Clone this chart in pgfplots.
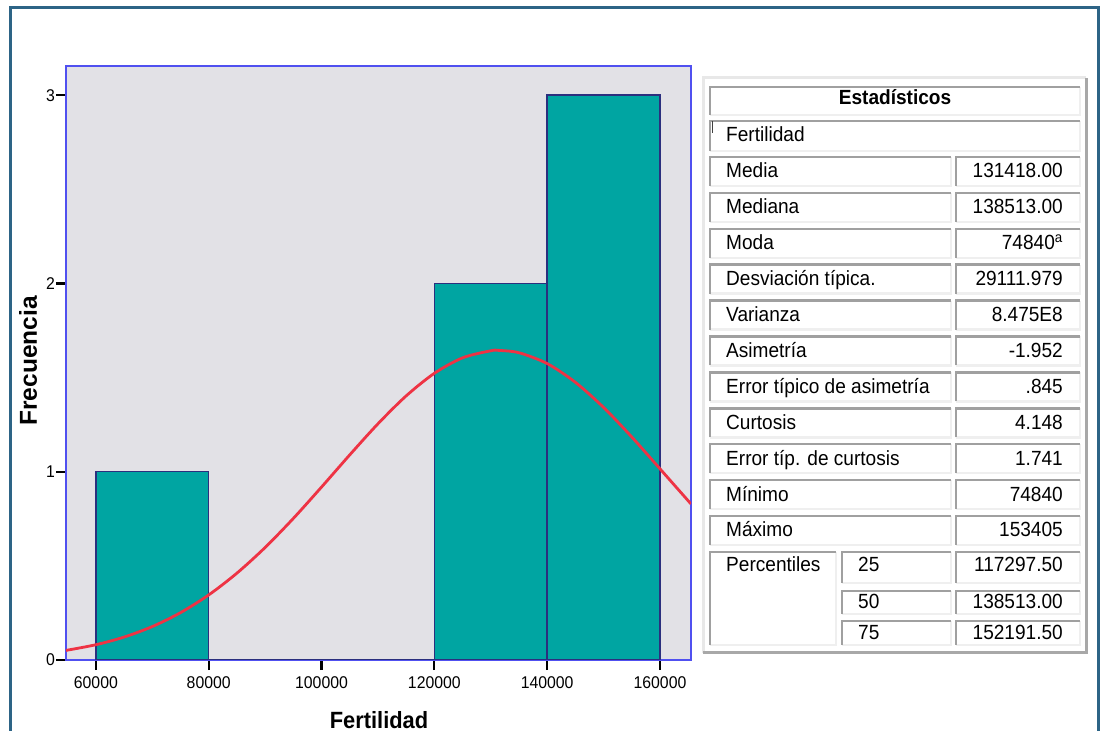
\documentclass[border=0pt]{standalone}
\usepackage{pgfplots}
\pgfplotsset{compat=1.18}
\usepackage{fontspec}
\setmainfont{Liberation Sans}[FakeStretch=0.93]
\newfontfamily\plainbold{Liberation Sans}[FakeStretch=1.0]
\definecolor{framecol}{HTML}{2D6486}
\definecolor{axblue}{HTML}{5050F0}
\definecolor{plotbg}{HTML}{E2E1E6}
\definecolor{barfill}{HTML}{00A5A2}
\definecolor{baredge}{HTML}{2B2F7E}
\definecolor{curvecol}{HTML}{EE3344}
\definecolor{celldark}{HTML}{A0A0A0}
\definecolor{celllight}{HTML}{EFEFEF}
\definecolor{outerdark}{HTML}{A8A8A8}
\definecolor{outerlight}{HTML}{E8E8E8}
\newcommand{\cell}[4]{%
  \draw[celllight, line width=2.5pt] (#1,#4) -- (#3,#4) -- (#3,#2);
  \draw[celldark, line width=2.5pt] (#1,#4) -- (#1,#2) -- (#3,#2);
}
\newcommand{\tf}{\fontsize{20.5}{24}\selectfont}
\begin{document}
\begin{tikzpicture}
\useasboundingbox (0pt,0pt) rectangle (1104pt,731pt);
\fill[white] (0pt,0pt) rectangle (1104pt,731pt);
\begin{axis}[
  at={(66pt,71pt)}, anchor=south west,
  width=625pt, height=594pt, scale only axis,
  xmin=54700, xmax=165500, ymin=0, ymax=3.155,
  axis background/.style={fill=plotbg},
  axis line style={axblue, line width=1.5pt},
  xtick={60000,80000,100000,120000,140000,160000},
  xticklabels={60000,80000,100000,120000,140000,160000},
  ytick={0,1,2,3},
  yticklabels={0,1,2,3},
  tick pos=left,
  tick align=outside,
  major tick length=10pt,
  xtick style={draw=black, line width=2.2pt},
  ytick style={draw=black, line width=2.2pt},
  every major tick/.append style={draw=black, line width=2.2pt},
  scaled x ticks=false,
  tick label style={font=\fontsize{17}{17}\selectfont},
  xticklabel style={inner sep=0pt, anchor=north, yshift=-6pt},
  yticklabel style={inner sep=0pt, anchor=east, xshift=-1pt},
  xlabel={\textbf{Fertilidad}},
  xlabel style={at={(axis description cs:0.5008,-0.1145)}, anchor=base, font=\fontsize{23.5}{24}\selectfont, inner sep=0pt},
  ylabel={\plainbold\bfseries Frecuencia},
  ylabel style={at={(axis description cs:-0.0608,0.5034)}, anchor=center, font=\fontsize{24.5}{25}\selectfont, inner sep=0pt},
]
\addplot[ybar interval, fill=barfill, draw=baredge, line width=1.5pt]
  coordinates {(60000,1) (80000,0) (120000,2) (140000,3) (160000,3)};
\addplot[smooth, curvecol, line width=2.8pt] coordinates {
(54700,0.0510) (60000,0.0811) (65000,0.1218) (70000,0.1776) (75000,0.2514)
(80000,0.3456) (85000,0.4613) (90000,0.5976) (95000,0.7519) (100000,0.9186)
(105000,1.0894) (110000,1.2545) (115000,1.4027) (120000,1.5227) (125000,1.6049)
(130000,1.6424) (131418,1.6444) (135000,1.6320) (140000,1.5745) (145000,1.4749)
(150000,1.3414) (155000,1.1844) (160000,1.0155) (165500,0.8287)};
\end{axis}
\draw[framecol, line width=3pt] (10pt,-10pt) -- (10pt,723pt) -- (1098pt,723pt) -- (1098pt,-10pt);
\begin{scope}[yshift=731pt, x=1pt, y=-1pt]
  % outer table box
  \draw[outerlight, line width=3pt] (703,653) -- (703,78) -- (1086,78);
  \draw[outerdark, line width=3pt] (703,653) -- (1086,653) -- (1086,78);
  % header
  \cell{710}{87}{1080}{115}
  \node[anchor=base, inner sep=0pt, font=\tf\bfseries] at (895,105) {Estadísticos};
  \cell{710}{121}{1080}{151}
  \node[anchor=base west, inner sep=0pt, font=\tf] at (726,142) {Fertilidad};
  \draw[black!75, line width=0.8pt] (712,121) -- (712,133);
  \foreach \i/\lab/\val in {0/Media/131418.00, 1/Mediana/138513.00, 2/Moda/74840\textsuperscript{a},
     3/Desviación típica./29111.979, 4/Varianza/8.475E8, 5/Asimetría/-1.952,
     6/Error típico de asimetría/.845, 7/Curtosis/4.148, 8/Error típ. de curtosis/1.741,
     9/Mínimo/74840, 10/Máximo/153405} {
    \pgfmathsetmacro{\t}{157+35.9*\i}
    \pgfmathsetmacro{\b}{\t+29}
    \pgfmathsetmacro{\bl}{\t+21}
    \cell{710}{\t}{951}{\b}
    \cell{956}{\t}{1080}{\b}
    \node[anchor=base west, inner sep=0pt, font=\tf] at (726,\bl) {\lab};
    \node[anchor=base east, inner sep=0pt, font=\tf] at (1063,\bl) {\val};
  }
  % percentiles
  \cell{710}{552}{836}{645}
  \node[anchor=base west, inner sep=0pt, font=\tf] at (726,572) {Percentiles};
  \cell{842}{552}{951}{583}
  \cell{956}{552}{1080}{583}
  \cell{842}{591}{951}{614}
  \cell{956}{591}{1080}{614}
  \cell{842}{621}{951}{645}
  \cell{956}{621}{1080}{645}
  \node[anchor=base west, inner sep=0pt, font=\tf] at (858,572) {25};
  \node[anchor=base west, inner sep=0pt, font=\tf] at (858,609) {50};
  \node[anchor=base west, inner sep=0pt, font=\tf] at (858,640) {75};
  \node[anchor=base east, inner sep=0pt, font=\tf] at (1063,572) {117297.50};
  \node[anchor=base east, inner sep=0pt, font=\tf] at (1063,609) {138513.00};
  \node[anchor=base east, inner sep=0pt, font=\tf] at (1063,640) {152191.50};
\end{scope}
\end{tikzpicture}
\end{document}
